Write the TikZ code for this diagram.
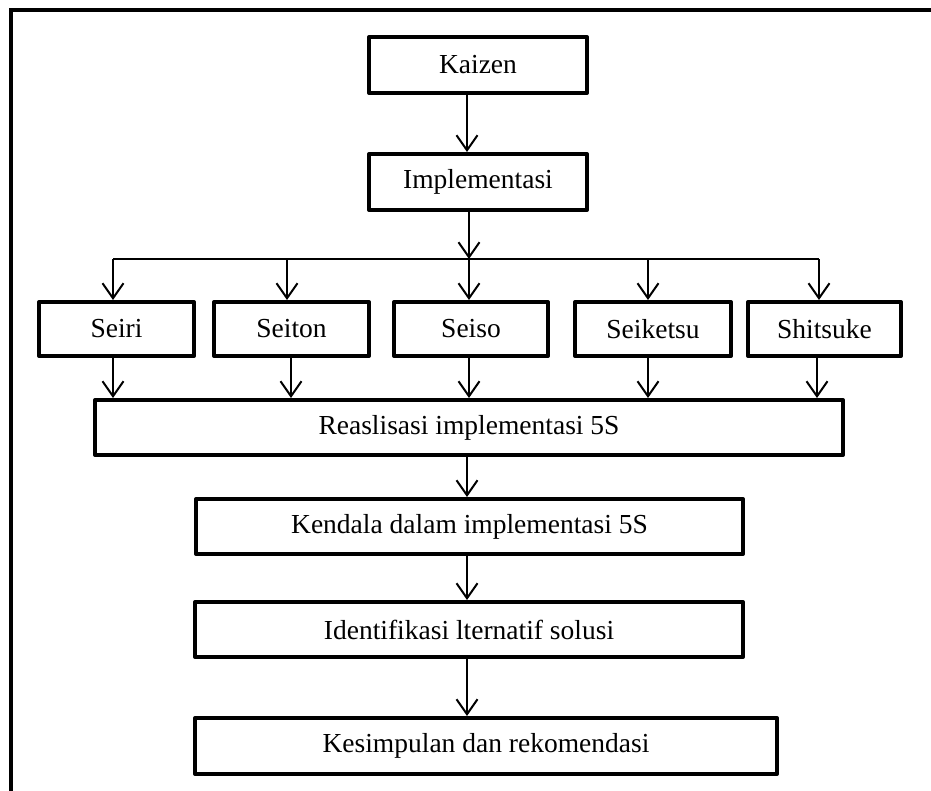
\documentclass[tikz,border=0pt]{standalone}
\usepackage{fontspec}
\setmainfont{Liberation Serif}
\usetikzlibrary{arrows.meta}
\tikzset{
  boxnode/.style={draw, line width=4pt, line join=round, inner sep=0pt,
    font=\fontsize{27.5}{30}\selectfont},
  arr/.style={line width=2pt, -{Straight Barb[length=15pt,width=21pt,line join=miter]}},
  conn/.style={line width=2pt},
  frameline/.style={line width=4pt}
}
\begin{document}
\begin{tikzpicture}[x=1pt,y=1pt]
\useasboundingbox (0,0) rectangle (931,791);
\draw[frameline] (11,-10) -- (11,781) -- (945,781);

\node[boxnode, minimum width=218pt, minimum height=56pt] (kaizen) at (478,726) {Kaizen};
\node[boxnode, minimum width=218pt, minimum height=56pt] (impl) at (478,609) {Implementasi};

\node[boxnode, minimum width=155pt, minimum height=54pt] (seiri) at (116.5,462) {Seiri};
\node[boxnode, minimum width=155pt, minimum height=54pt] (seiton) at (291.5,462) {Seiton};
\node[boxnode, minimum width=154pt, minimum height=54pt] (seiso) at (471,462) {Seiso};
\node[boxnode, minimum width=156pt, minimum height=54pt] (seiketsu) at (653,462) {Seiketsu};
\node[boxnode, minimum width=153pt, minimum height=54pt] (shitsuke) at (824.5,462) {Shitsuke};

\node[boxnode, minimum width=748pt, minimum height=55pt] (reas) at (469,363.5) {Reaslisasi implementasi 5S};
\node[boxnode, minimum width=547pt, minimum height=55pt] (kendala) at (469.5,264.5) {Kendala dalam implementasi 5S};
\node[boxnode, minimum width=548pt, minimum height=55pt] (ident) at (469,161.5) {Identifikasi lternatif solusi};
\node[boxnode, minimum width=582pt, minimum height=56pt] (kesim) at (486,45) {Kesimpulan dan rekomendasi};

% coordinates
\coordinate (a1) at (467,0);
\coordinate (a2) at (469,0);
\coordinate (br1) at (113,532);
\coordinate (br2) at (287,532);
\coordinate (br3) at (469,532);
\coordinate (br4) at (648,532);
\coordinate (br5) at (819,532);
\coordinate (d1) at (113,0);
\coordinate (d2) at (291,0);
\coordinate (d3) at (469,0);
\coordinate (d4) at (648,0);
\coordinate (d5) at (817,0);

\draw[arr] (kaizen.south -| a1) -- (impl.north -| a1);
\draw[arr] (impl.south -| a2) -- (br3);
\draw[conn] (br1) -- (br5);
\draw[arr] (br1) -- (seiri.north -| br1);
\draw[arr] (br2) -- (seiton.north -| br2);
\draw[arr] (br3) -- (seiso.north -| br3);
\draw[arr] (br4) -- (seiketsu.north -| br4);
\draw[arr] (br5) -- (shitsuke.north -| br5);

\draw[arr] (seiri.south -| d1) -- (reas.north -| d1);
\draw[arr] (seiton.south -| d2) -- (reas.north -| d2);
\draw[arr] (seiso.south -| d3) -- (reas.north -| d3);
\draw[arr] (seiketsu.south -| d4) -- (reas.north -| d4);
\draw[arr] (shitsuke.south -| d5) -- (reas.north -| d5);

\draw[arr] (reas.south -| a1) -- (kendala.north -| a1);
\draw[arr] (kendala.south -| a1) -- (ident.north -| a1);
\draw[arr] (ident.south -| a1) -- (kesim.north -| a1);
\end{tikzpicture}
\end{document}
